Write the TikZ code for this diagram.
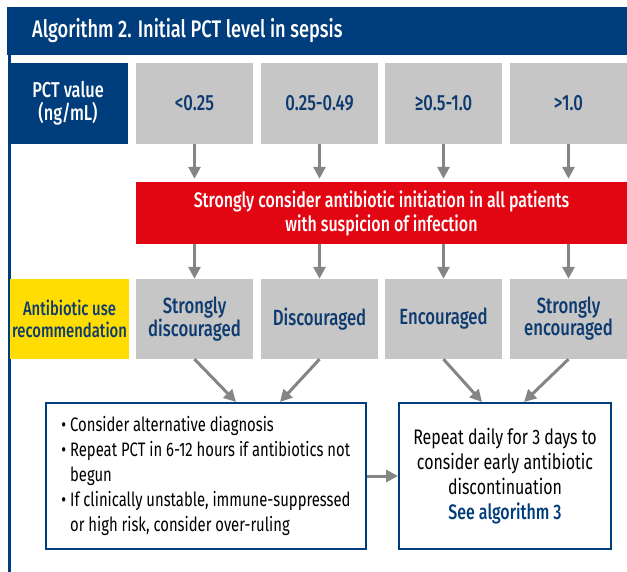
\documentclass[tikz,border=0pt]{standalone}
\usepackage{fontspec}
\setmainfont{Fira Sans}[FakeStretch=0.76, BoldFont={Fira Sans Medium}]
\usepackage{xcolor}
\usetikzlibrary{arrows.meta}

\definecolor{algblue}{HTML}{003D7C}
\definecolor{txtblue}{HTML}{0D3B70}
\definecolor{boxgray}{HTML}{C6C6C6}
\definecolor{algred}{HTML}{E20613}
\definecolor{algyellow}{HTML}{FFDD00}
\definecolor{arrgray}{HTML}{858585}

\begin{document}
\begin{tikzpicture}[x=1pt, y=-1pt,
    cellbox/.style={minimum width=117pt, inner sep=0pt, align=center, text=txtblue,
        font=\bfseries\fontsize{22}{22}\selectfont},
    valbox/.style={cellbox, fill=boxgray, minimum height=81pt},
    recbox/.style={cellbox, fill=boxgray, minimum height=80pt},
    notebox/.style={draw=algblue, line width=2pt, fill=white, minimum height=146pt,
        inner sep=0pt, font=\fontsize{19.5}{25}\selectfont},
    arr/.style={draw=arrgray, line width=3pt, -{Triangle[length=12pt,width=12pt]}}]
    \useasboundingbox (0,0) rectangle (627,572);
    \clip (0,0) rectangle (627,572);

    % Draw the frame and title bar
    \draw[algblue, line width=2.5pt] (9.5,8) rectangle (650,600);
    \fill[algblue] (7,7) rectangle (650,55);
    \node[anchor=west, text=white, inner sep=0pt, font=\bfseries\fontsize{24}{24}\selectfont]
        (title) at (32,31) {Algorithm 2. Initial PCT level in sepsis};

    % PCT values
    \node[cellbox, fill=algblue, text=white, minimum width=120pt, minimum height=81pt,
        font=\bfseries\fontsize{21.5}{23}\selectfont]
        (pct) at (68,103.5) {PCT value\\(ng/mL)};
    \node[valbox] (v1) at (194.5,103.5) {<0.25};
    \node[valbox] (v2) at (319.5,103.5) {0.25-0.49};
    \node[valbox] (v3) at (443.5,103.5) {≥0.5-1.0};
    \node[valbox] (v4) at (568.5,103.5) {>1.0};

    % Red box
    \node[fill=algred, text=white, minimum width=491pt, minimum height=62pt, inner sep=0pt,
        align=center, font=\bfseries\fontsize{21}{24}\selectfont]
        (init) at (381.5,213) {Strongly consider antibiotic initiation in all patients\\with suspicion of infection};

    % Recommendations
    \node[cellbox, fill=algyellow, minimum width=119pt, minimum height=80pt,
        font=\bfseries\fontsize{19.5}{22}\selectfont]
        (rec) at (69.5,319) {Antibiotic use\\recommendation};
    \node[recbox] (r1) at (194.5,319) {Strongly\\discouraged};
    \node[recbox] (r2) at (319.5,319) {Discouraged};
    \node[recbox] (r3) at (443.5,319) {Encouraged};
    \node[recbox] (r4) at (568.5,319) {Strongly\\encouraged};

    % Bottom boxes
    \node[notebox, minimum width=320pt, align=left] (alt) at (206,476)
        {\textbullet\ Consider alternative diagnosis\\
         \textbullet\ Repeat PCT in 6-12 hours if antibiotics not\\
         \phantom{\textbullet\ }begun\\
         \textbullet\ If clinically unstable, immune-suppressed\\
         \phantom{\textbullet\ }or high risk, consider over-ruling};
    \node[notebox, minimum width=212pt, align=center, font=\fontsize{21}{25}\selectfont]
        (rep) at (505,476)
        {Repeat daily for 3 days to\\consider early antibiotic\\discontinuation\\
         \textcolor{algblue}{\bfseries See algorithm 3}};

    % Draw arrows
    \foreach \i in {1,...,4} {
        \draw[arr, shorten >=3pt] (v\i.south) -- (v\i.south |- init.north);
        \draw[arr] (v\i.south |- init.south) -- (r\i.north);
    }
    \draw[arr] (r1.south) -- ([xshift=30pt]alt.north);
    \draw[arr] (r2.south) -- ([xshift=74pt]alt.north);
    \draw[arr] (r3.south) -- ([xshift=-23pt]rep.north);
    \draw[arr] (r4.south) -- ([xshift=19pt]rep.north);
    \draw[arr] (alt.east) -- (rep.west);
\end{tikzpicture}
\end{document}
